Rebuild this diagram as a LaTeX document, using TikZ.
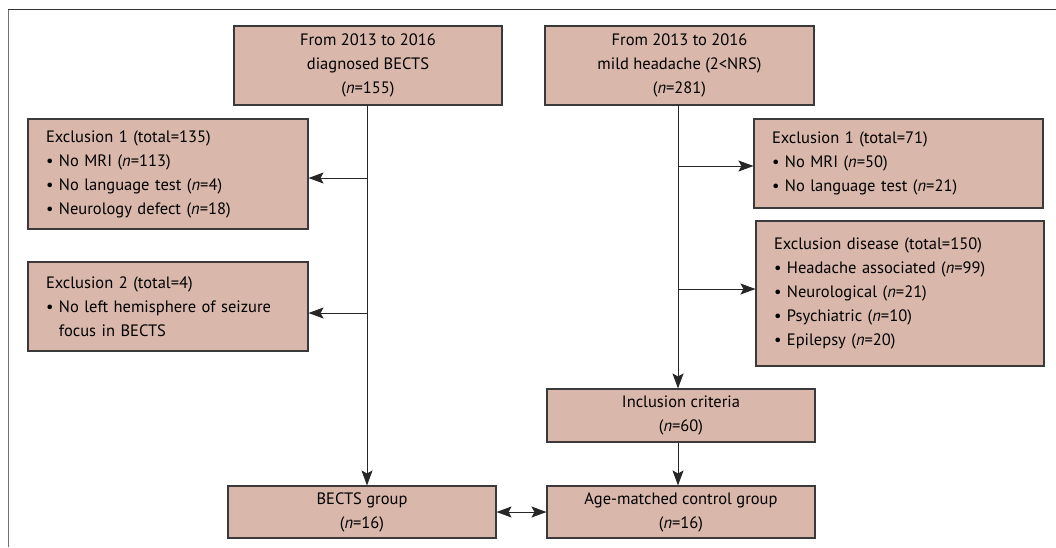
\documentclass[tikz,border=0pt]{standalone}
\usepackage{fontspec}
\setmainfont{PT Sans}
\usetikzlibrary{arrows.meta}
\definecolor{boxfill}{HTML}{D9B7AB}
\definecolor{boxline}{HTML}{3A3A3A}
\tikzset{
  flowbox/.style={draw=boxline, line width=1.1pt, fill=boxfill, inner sep=0pt, align=center,
    font=\fontsize{16.5}{24}\selectfont},
  leftbox/.style={flowbox, align=left, inner xsep=18pt},
  tip/.style={Stealth[length=15pt,width=11pt,inset=3pt]},
  conn/.style={line width=0.9pt, draw=black!85, -{Stealth[length=15pt,width=11pt,inset=3pt]}},
  bothconn/.style={line width=0.9pt, draw=black!85, {Stealth[length=15pt,width=11pt,inset=3pt]}-{Stealth[length=15pt,width=11pt,inset=3pt]}}
}
\newcommand{\nn}{{\itshape n}}
\newcommand{\bul}{\textbullet\ }
\begin{document}
\begin{tikzpicture}[x=1pt,y=-1pt]
\useasboundingbox (0,0) rectangle (1056,547);
\draw[line width=1pt, draw=black!55] (8.5,547) -- (8.5,9.5);
\draw[line width=1.6pt, draw=black!80] (8,9.5) -- (1056,9.5);

\node[flowbox, minimum width=268pt, minimum height=79pt] (A) at (368,65.5)
  {From 2013 to 2016\\diagnosed BECTS\\(\nn=155)};
\node[flowbox, minimum width=269pt, minimum height=79pt] (B) at (679.5,65.5)
  {From 2013 to 2016\\mild headache (2<NRS)\\(\nn=281)};
\node[leftbox, text width=244pt, minimum height=110pt] (E1L) at (168,174)
  {Exclusion 1 (total=135)\\\bul No MRI (\nn=113)\\\bul No language test (\nn=4)\\\bul Neurology defect (\nn=18)};
\node[leftbox, text width=244pt, minimum height=89pt] (E2L) at (168,306.5)
  {Exclusion 2 (total=4)\\\bul No left hemisphere of seizure\\\phantom{\bul}focus in BECTS};
\node[flowbox, minimum width=268pt, minimum height=52pt] (BG) at (362,512)
  {BECTS group\\(\nn=16)};
\node[flowbox, minimum width=268pt, minimum height=52pt] (AG) at (681,512)
  {Age-matched control group\\(\nn=16)};
\node[flowbox, minimum width=268pt, minimum height=53pt] (INC) at (681,415.5)
  {Inclusion criteria\\(\nn=60)};
\node[leftbox, text width=253pt, minimum height=89pt] (E1R) at (898.5,163.5)
  {Exclusion 1 (total=71)\\\bul No MRI (\nn=50)\\\bul No language test (\nn=21)};
\node[leftbox, text width=252pt, minimum height=145pt] (EDR) at (900,293.5)
  {Exclusion disease (total=150)\\\bul Headache associated (\nn=99)\\\bul Neurological (\nn=21)\\\bul Psychiatric (\nn=10)\\\bul Epilepsy (\nn=20)};

\coordinate (LT) at (367,105);
\coordinate (RT) at (678,105);
\draw[conn] (LT) -- (LT |- BG.north);
\draw[conn] (LT |- 0,178) -- (E1L.east |- 0,178);
\draw[conn] (LT |- 0,313) -- (E2L.east |- 0,313);
\draw[conn] (RT) -- (RT |- INC.north);
\draw[conn] (RT |- 0,166) -- (E1R.west |- 0,166);
\draw[conn] (RT |- 0,289) -- (EDR.west |- 0,289);
\draw[conn] (RT |- INC.south) -- (RT |- AG.north);
\draw[bothconn] (BG.east) -- (AG.west);
\end{tikzpicture}
\end{document}
